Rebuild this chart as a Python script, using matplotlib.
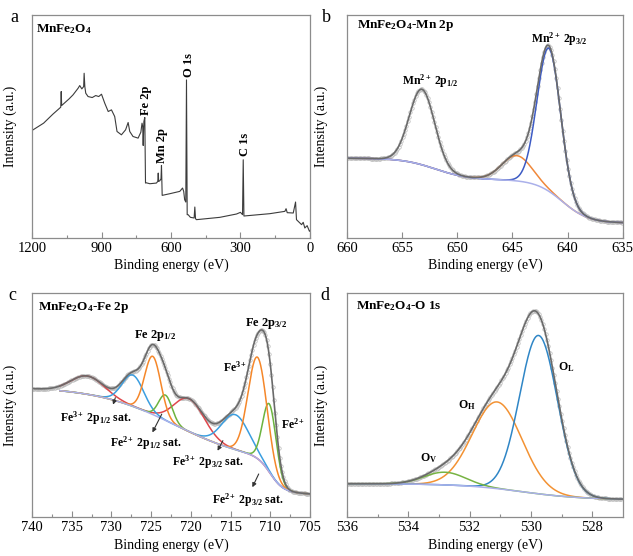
import numpy as np
import matplotlib
matplotlib.use('Agg')
import matplotlib.pyplot as plt

plt.rcParams['font.family'] = 'Liberation Serif'
plt.rcParams['mathtext.fontset'] = 'custom'
plt.rcParams['mathtext.rm'] = 'Liberation Serif'
plt.rcParams['mathtext.bf'] = 'Liberation Serif:bold'
plt.rcParams['mathtext.it'] = 'Liberation Serif:italic'

#---------------------------------- DATA -----------------------------------
# (a) survey spectrum (binding energy, intensity)
survey_be = [1200, 1150, 1110, 1076, 1074, 1072, 1040, 1023, 1001, 994, 985, 977, 975, 972,
             968, 958, 940, 925, 912, 900, 886, 871, 857, 843, 833, 814, 796, 785, 778, 764,
             742, 730, 725, 722, 720, 717, 713, 710, 708, 691, 663, 657, 655, 653, 648, 643,
             641, 639, 638, 605, 562, 550, 545, 541, 536, 533, 530, 526, 516, 500, 497, 494,
             490, 389, 317, 300, 291, 288, 285, 173, 108, 103, 98, 72, 62, 58, 36, 29, 22,
             12, 2, 0]
survey_int = [323, 345, 372, 393, 440, 398, 418, 430, 450, 458, 448, 455, 495, 455,
              435, 425, 422, 428, 425, 432, 405, 380, 385, 365, 320, 310, 325, 347, 320, 305,
              300, 318, 345, 335, 278, 350, 362, 165, 166, 163, 165, 170, 195, 170, 172, 178,
              218, 160, 128, 133, 140, 150, 140, 115, 108, 475, 70, 70, 62, 60, 93, 58,
              55, 62, 72, 77, 70, 235, 66, 73, 80, 88, 76, 75, 108, 55, 40, 47, 30,
              37, 20, 22]
survey_peaks = ['Fe 2p', 'Mn 2p', 'O 1s', 'C 1s']
survey_peak_be = [706, 638, 524, 281]
survey_peak_int = [370, 225, 483, 245]

# (b) Mn 2p fit: background steps (height, centre, width) and peaks (centre, height, fwhm)
mn_bg_base = 45
mn_bg_steps = [(130, 640.5, 1.2), (65, 652.0, 1.5)]
mn_p12 = (653.2, 227, 2.7)
mn_p32 = (641.7, 430, 2.5)
mn_sat = (644.6, 76, 3.2)

# (c) Fe 2p fit
fe_bg_base = 62
fe_bg_steps = [(100, 710.0, 0.8), (230, 722.0, 5.0)]
fe_red = [(733.0, 55, 5.0), (720.2, 99, 4.5)]
fe_blue = [(727.3, 94, 3.2), (714.4, 105, 4.0)]
fe_orange = [(724.8, 175, 2.4), (711.6, 305, 2.8)]
fe_green = [(723.2, 76, 2.0), (710.1, 205, 2.0)]

# (d) O 1s fit
o_bg_base = 52
o_bg_steps = [(48, 530.3, 1.0)]
o_v = (532.8, 38, 1.6)
o_h = (531.1, 260, 1.9)
o_l = (529.75, 475, 1.45)

#---------------------------------- STYLE -----------------------------------
c_env = '#6a6a6a'
c_bg = '#aab0ea'
c_pts = '#b8b8b8'
c_spine = '#8c8c8c'
fs_tick = 10.5
fs_lab = 10
fs_title = 9.5
fs_ann = 8.5

def peak(x, p):
    c, h, w = p
    s = w / 2.3548
    return h * np.exp(-0.5 * ((x - c) / s) ** 2)

def background(x, base, steps):
    y = np.full_like(x, float(base))
    for h, c, w in steps:
        y = y + h / (1 + np.exp(-(x - c) / w))
    return y

def style_ax(ax, xlim, ylim, major, minor, lab_x):
    ax.set_xlim(xlim)
    ax.set_ylim(ylim)
    ax.set_xticks(major)
    ax.set_xticks(minor, minor=True)
    ax.set_yticks([])
    ax.tick_params(axis='x', which='major', direction='in', length=4, width=0.8,
                   color=c_spine, labelsize=fs_tick, pad=3)
    ax.tick_params(axis='x', which='minor', direction='in', length=2.5, width=0.8, color=c_spine)
    for sp in ax.spines.values():
        sp.set_color(c_spine)
        sp.set_linewidth(0.9)
    ax.set_xlabel('Binding energy (eV)', fontsize=fs_lab)
    ax.set_ylabel('Intensity (a.u.)', fontsize=fs_lab)
    ax.yaxis.set_label_coords(lab_x, 0.5)
    ax.xaxis.set_label_coords(0.5, -0.09)

fig = plt.figure(figsize=(6.33, 5.56), dpi=100)
ax_a = fig.add_axes([0.0506, 0.572, 0.439, 0.401])
ax_b = fig.add_axes([0.548, 0.572, 0.436, 0.401])
ax_c = fig.add_axes([0.0506, 0.0701, 0.439, 0.403])
ax_d = fig.add_axes([0.548, 0.0701, 0.436, 0.403])

##------------------------------------ (a) -----------------------------------
ax_a.plot(survey_be, survey_int, color='#3c3c3c', lw=0.8)
style_ax(ax_a, (1200, 0), (0, 670), [1200, 900, 600, 300, 0],
         [1050, 750, 450, 150], -0.054)
for name, xx, yy in zip(survey_peaks, survey_peak_be, survey_peak_int):
    ax_a.text(xx, yy, name, rotation=90, ha='center', va='bottom',
              fontsize=fs_ann + 0.5, fontweight='bold')
ax_a.text(0.016, 0.935, r'$\mathbf{MnFe_2O_4}$', transform=ax_a.transAxes,
          fontsize=fs_title, va='center', ha='left')

##------------------------------------ (b) -----------------------------------
xb = np.linspace(660, 635, 600)
bg_b = background(xb, mn_bg_base, mn_bg_steps)
env_b = bg_b + peak(xb, mn_p12) + peak(xb, mn_p32) + peak(xb, mn_sat)
xb_pts = np.arange(660, 635, -0.12)
pts_b = background(xb_pts, mn_bg_base, mn_bg_steps) + peak(xb_pts, mn_p12) \
    + peak(xb_pts, mn_p32) + peak(xb_pts, mn_sat)
ax_b.plot(xb_pts, pts_b, 'o', mfc='none', mec=c_pts, ms=2.5, mew=0.5)
ax_b.plot(xb, bg_b + peak(xb, mn_sat), color='#f0883a', lw=1.1)
ax_b.plot(xb, bg_b + peak(xb, mn_p32), color='#3d5bc4', lw=1.1)
ax_b.plot(xb, bg_b, color=c_bg, lw=1.1)
ax_b.plot(xb, env_b, color=c_env, lw=1.2)
style_ax(ax_b, (660, 635), (0, 670), [660, 655, 650, 645, 640, 635], [], -0.069)
ax_b.text(0.036, 0.952, r'$\mathbf{MnFe_2O_4\text{-}Mn\ 2p}$', transform=ax_b.transAxes,
          fontsize=fs_title, va='center', ha='left')
ax_b.text(643.3, 597, r'$\mathbf{Mn^{2+}\ 2p_{3/2}}$', fontsize=fs_ann, va='center')
ax_b.text(655.0, 470, r'$\mathbf{Mn^{2+}\ 2p_{1/2}}$', fontsize=fs_ann, va='center')

##------------------------------------ (c) -----------------------------------
xc = np.linspace(740, 705, 700)
bg_c = background(xc, fe_bg_base, fe_bg_steps)
env_c = bg_c.copy()
for p in fe_red + fe_blue + fe_orange + fe_green:
    env_c = env_c + peak(xc, p)
xc_pts = np.arange(740, 705, -0.15)
pts_c = background(xc_pts, fe_bg_base, fe_bg_steps)
for p in fe_red + fe_blue + fe_orange + fe_green:
    pts_c = pts_c + peak(xc_pts, p)
ax_c.plot(xc_pts, pts_c, 'o', mfc='none', mec=c_pts, ms=2.5, mew=0.5)
m = xc <= 736.5
for comps, col in [(fe_red, '#e0474c'), (fe_blue, '#3b9ee0'),
                   (fe_green, '#6cb33f'), (fe_orange, '#f5872a')]:
    yy = bg_c.copy()
    for p in comps:
        yy = yy + peak(xc, p)
    ax_c.plot(xc[m], yy[m], color=col, lw=1.1)
ax_c.plot(xc[m], bg_c[m], color=c_bg, lw=1.1)
ax_c.plot(xc, env_c, color=c_env, lw=1.2)
style_ax(ax_c, (740, 705), (0, 674), [740, 735, 730, 725, 720, 715, 710, 705],
         [737.5, 732.5, 727.5, 722.5, 717.5, 712.5, 707.5], -0.054)
ax_c.xaxis.set_label_coords(0.5, -0.095)
ax_c.text(0.022, 0.935, r'$\mathbf{MnFe_2O_4\text{-}Fe\ 2p}$', transform=ax_c.transAxes,
          fontsize=fs_title, va='center', ha='left')
ax_c.text(727.1, 547, r'$\mathbf{Fe\ 2p_{1/2}}$', fontsize=fs_ann + 0.5, va='center')
ax_c.text(713.2, 582, r'$\mathbf{Fe\ 2p_{3/2}}$', fontsize=fs_ann + 0.5, va='center')
ax_c.text(716.0, 450, r'$\mathbf{Fe^{3+}}$', fontsize=fs_ann, va='center')
ax_c.text(708.6, 279, r'$\mathbf{Fe^{2+}}$', fontsize=fs_ann, va='center')
sat_labels = [r'$\mathbf{Fe^{3+}\ 2p_{1/2}\ sat.}$', r'$\mathbf{Fe^{2+}\ 2p_{1/2}\ sat.}$',
              r'$\mathbf{Fe^{3+}\ 2p_{3/2}\ sat.}$', r'$\mathbf{Fe^{2+}\ 2p_{3/2}\ sat.}$']
sat_text = [(736.5, 297), (730.2, 222), (722.4, 164), (717.3, 50)]
sat_tail = [(729.4, 367), (723.5, 317), (715.8, 237), (711.3, 137)]
sat_head = [(729.9, 330), (725.0, 247), (716.8, 192), (712.4, 82)]
for lab, tx, tl, hd in zip(sat_labels, sat_text, sat_tail, sat_head):
    ax_c.text(tx[0], tx[1], lab, fontsize=fs_ann, va='center')
    ax_c.annotate('', xy=hd, xytext=tl,
                  arrowprops=dict(arrowstyle='-|>', color='#333333', lw=0.8, mutation_scale=6))

##------------------------------------ (d) -----------------------------------
xd = np.linspace(536, 527, 600)
bg_d = background(xd, o_bg_base, o_bg_steps)
env_d = bg_d + peak(xd, o_v) + peak(xd, o_h) + peak(xd, o_l)
xd_pts = np.arange(536, 527, -0.045)
pts_d = background(xd_pts, o_bg_base, o_bg_steps) + peak(xd_pts, o_v) \
    + peak(xd_pts, o_h) + peak(xd_pts, o_l)
ax_d.plot(xd_pts, pts_d, 'o', mfc='none', mec=c_pts, ms=2.5, mew=0.5)
ax_d.plot(xd, bg_d + peak(xd, o_h), color='#f39233', lw=1.1)
ax_d.plot(xd, bg_d + peak(xd, o_l), color='#2f86c6', lw=1.1)
ax_d.plot(xd, bg_d + peak(xd, o_v), color='#77b343', lw=1.1)
ax_d.plot(xd, bg_d, color=c_bg, lw=1.1)
ax_d.plot(xd, env_d, color=c_env, lw=1.2)
style_ax(ax_d, (536, 527), (0, 672), [536, 534, 532, 530, 528],
         [535, 533, 531, 529], -0.069)
ax_d.xaxis.set_label_coords(0.5, -0.095)
ax_d.text(0.034, 0.94, r'$\mathbf{MnFe_2O_4\text{-}O\ 1s}$', transform=ax_d.transAxes,
          fontsize=fs_title, va='center', ha='left')
ax_d.text(529.12, 450, r'$\mathbf{O_L}$', fontsize=fs_ann, va='center')
ax_d.text(532.38, 337, r'$\mathbf{O_H}$', fontsize=fs_ann, va='center')
ax_d.text(533.63, 177, r'$\mathbf{O_V}$', fontsize=fs_ann, va='center')

# panel letters
for lab, xx, yy in [('a', 0.022, 0.968), ('b', 0.516, 0.968), ('c', 0.020, 0.468), ('d', 0.514, 0.468)]:
    fig.text(xx, yy, lab, fontsize=13, ha='center', va='center')

fig.savefig('out.png', dpi=100)
